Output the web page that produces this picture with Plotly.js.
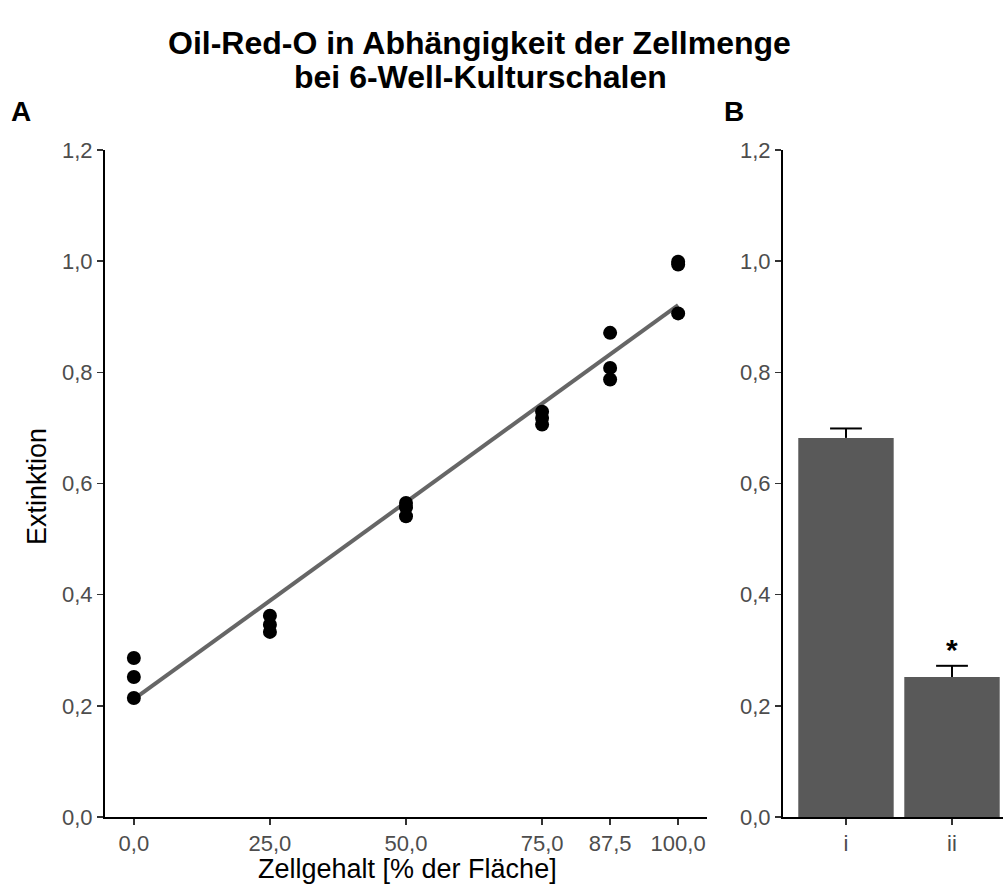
<!DOCTYPE html>
<html>
<head>
<meta charset="utf-8">
<script src="https://cdn.plot.ly/plotly-3.0.1.min.js"></script>
<style>html,body{margin:0;padding:0;background:#fff;}#chart{width:1003px;height:890px;}</style>
</head>
<body>
<div id="chart"></div>
<script>
// Panel A data: cell content (% area) vs extinction
const cellContent = [0, 0, 0, 25, 25, 25, 50, 50, 50, 75, 75, 75, 87.5, 87.5, 87.5, 100, 100, 100];
const extinction = [0.286, 0.252, 0.214, 0.362, 0.346, 0.333, 0.565, 0.557, 0.541, 0.729, 0.718, 0.706, 0.871, 0.808, 0.787, 0.999, 0.994, 0.906];
const fitX = [0, 100];
const fitY = [0.212, 0.921];
const xTickVals = [0, 25, 50, 75, 87.5, 100];
const yTickVals = [0, 0.2, 0.4, 0.6, 0.8, 1.0, 1.2];

// Panel B data
const groups = ['i', 'ii'];
const groupMeans = [0.682, 0.252];
const groupSE = [0.017, 0.020];
const titleLines = ['Oil-Red-O in Abhängigkeit der Zellmenge', 'bei 6-Well-Kulturschalen'];

const groupPos = groups.map((g, i) => i);
const errX = [], errY = [];
groupPos.forEach((p, i) => {
  const top = groupMeans[i] + groupSE[i];
  errX.push(p, p, null, p - 0.15, p + 0.15, null);
  errY.push(groupMeans[i], top, null, top, top, null);
});

const fontFam = 'Liberation Sans, Arial, Helvetica, sans-serif';
const tickFont = {family: fontFam, size: 22, color: '#4D4D4D'};

const traces = [
  {x: fitX, y: fitY, type: 'scatter', mode: 'lines', line: {color: '#666666', width: 4}, xaxis: 'x', yaxis: 'y', hoverinfo: 'skip'},
  {x: cellContent, y: extinction, type: 'scatter', mode: 'markers', marker: {color: '#000000', size: 14}, xaxis: 'x', yaxis: 'y'},
  {x: groupPos, y: groupMeans, type: 'bar', width: 0.9, marker: {color: '#595959'}, xaxis: 'x2', yaxis: 'y2'},
  {x: errX, y: errY, type: 'scatter', mode: 'lines', line: {color: '#000000', width: 2}, xaxis: 'x2', yaxis: 'y2', hoverinfo: 'skip'}
];

const yDom = [(890 - 817) / 890, (890 - 150) / 890];
const axisCommon = {
  showgrid: false, zeroline: false, showline: true, linecolor: '#000000', linewidth: 2,
  ticks: 'outside', ticklen: 6, tickwidth: 1.5, tickcolor: '#333333', tickfont: tickFont
};

const txt = (text, x, y, size, extra) => Object.assign({
  text: text, xref: 'paper', yref: 'paper', x: x / 1003, y: 1 - y / 890,
  xanchor: 'center', yanchor: 'middle', showarrow: false,
  font: {family: fontFam, size: size, color: '#000000'}
}, extra || {});

const layout = {
  width: 1003, height: 890,
  margin: {l: 0, r: 0, t: 0, b: 0},
  paper_bgcolor: '#ffffff', plot_bgcolor: '#ffffff',
  showlegend: false,
  separators: ',.',
  xaxis: Object.assign({}, axisCommon, {
    domain: [105 / 1003, 707 / 1003], range: [-5.3, 105.3],
    tickvals: xTickVals, tickformat: '.1f', anchor: 'y'
  }),
  yaxis: Object.assign({}, axisCommon, {
    domain: yDom, range: [0, 1.2], tickvals: yTickVals, tickformat: '.1f', anchor: 'x'
  }),
  xaxis2: Object.assign({}, axisCommon, {
    domain: [783 / 1003, 1], range: [-0.594, 1.481],
    tickvals: groupPos, ticktext: groups, anchor: 'y2'
  }),
  yaxis2: Object.assign({}, axisCommon, {
    domain: yDom, range: [0, 1.2], tickvals: yTickVals, tickformat: '.1f', anchor: 'x2'
  }),
  annotations: [
    txt('<b>' + titleLines[0] + '</b>', 479, 43, 32),
    txt('<b>' + titleLines[1] + '</b>', 480, 77, 32),
    txt('Zellgehalt [% der Fläche]', 407, 869, 27),
    txt('Extinktion', 37, 487, 27, {textangle: -90}),
    txt('<b>A</b>', 21, 112, 28),
    txt('<b>B</b>', 734, 112, 28),
    {text: '<b>*</b>', xref: 'x2', yref: 'y2', x: groupPos[1], y: groupMeans[1] + groupSE[1],
     xanchor: 'center', yanchor: 'bottom', yshift: -2, showarrow: false, font: {family: fontFam, size: 30, color: '#000000'}}
  ]
};

Plotly.newPlot('chart', traces, layout, {displayModeBar: false, staticPlot: true});
</script>
</body>
</html>
